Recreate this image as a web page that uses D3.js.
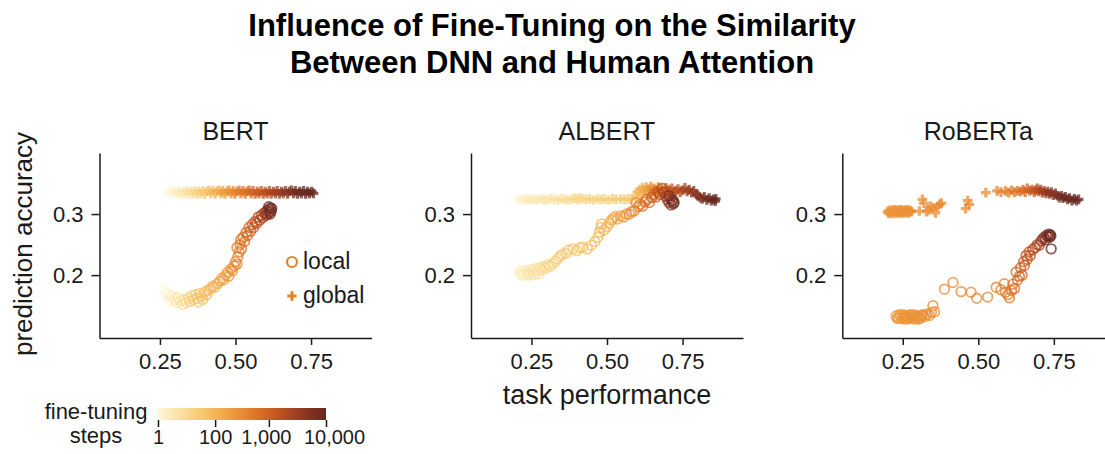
<!DOCTYPE html>
<html><head><meta charset="utf-8">
<script src="https://cdn.jsdelivr.net/npm/d3@7"></script>
<style>
html,body{margin:0;padding:0;background:#fff;}
svg{display:block;font-family:"Liberation Sans",Arial,sans-serif;}
</style></head>
<body><svg id="c" width="1105" height="454"></svg>
<script>
// ---------- data ----------
const panelTitles = ["BERT","ALBERT","RoBERTa"];
const xTicks = [0.25,0.5,0.75];
const yTicks = [0.2,0.3];
const stepTicks = [1,100,1000,10000];
const stepTickLabels = ["1","100","1,000","10,000"];
const colorStops = ["#fdf6da","#fae3a4","#f6cb72","#f2ad4c","#eb8c31","#d96a20","#b84b1f","#8d3521","#652822"];

// [task performance, prediction accuracy, fine-tuning steps]
const bertGlobal = [
[0.278,0.335,1],[0.285,0.338,1],[0.292,0.333,1],[0.298,0.337,2],[0.305,0.334,2],[0.312,0.338,2],[0.318,0.333,3],[0.325,0.337,3],[0.332,0.334,4],[0.338,0.338,5],[0.345,0.333,6],[0.352,0.337,8],[0.358,0.334,10],[0.365,0.338,12],[0.372,0.333,15],[0.378,0.337,18],[0.385,0.334,22],[0.392,0.338,27],[0.398,0.333,33],[0.405,0.337,40],[0.412,0.339,50],[0.418,0.334,60],[0.425,0.338,75],[0.432,0.333,90],[0.438,0.337,110],[0.445,0.339,130],[0.452,0.334,150],[0.458,0.338,170],[0.465,0.333,200],[0.472,0.337,230],[0.478,0.339,260],[0.485,0.334,290],[0.492,0.338,330],[0.498,0.333,370],[0.505,0.337,410],[0.512,0.339,460],[0.518,0.334,510],[0.525,0.338,560],[0.532,0.333,620],[0.538,0.337,680],[0.545,0.339,750],[0.552,0.334,820],[0.558,0.338,900],[0.565,0.333,980],[0.572,0.337,1080],[0.578,0.334,1200],[0.585,0.338,1320],[0.592,0.333,1450],[0.598,0.337,1600],[0.605,0.334,1750],[0.612,0.338,1950],[0.618,0.333,2150],[0.625,0.337,2400],[0.632,0.334,2650],[0.638,0.338,2900],[0.645,0.333,3200],[0.652,0.337,3500],[0.658,0.334,3900],[0.665,0.338,4300],[0.672,0.333,4700],[0.678,0.337,5200],[0.685,0.339,5700],[0.692,0.334,6200],[0.698,0.338,6800],[0.705,0.333,7300],[0.712,0.337,7900],[0.718,0.334,8400],[0.725,0.338,8900],[0.732,0.333,9300],[0.738,0.337,9600],[0.745,0.334,9800],[0.752,0.337,10000],[0.758,0.334,10000]
];
const bertLocal = [
[0.265,0.176,1],[0.272,0.171,1],[0.28,0.168,2],[0.285,0.158,2],[0.29,0.165,3],[0.298,0.16,3],[0.305,0.155,4],[0.31,0.163,5],[0.318,0.158,6],[0.325,0.152,8],[0.33,0.16,10],[0.338,0.155,12],[0.345,0.162,15],[0.35,0.157,18],[0.355,0.166,22],[0.362,0.16,26],[0.368,0.168,30],[0.372,0.162,35],[0.378,0.156,40],[0.382,0.17,45],[0.388,0.165,50],[0.392,0.16,55],[0.398,0.172,60],[0.405,0.168,70],[0.41,0.175,80],
[0.418,0.178,90],[0.425,0.182,100],[0.432,0.18,115],[0.44,0.186,130],[0.448,0.19,150],[0.455,0.195,170],[0.46,0.192,190],[0.468,0.2,210],[0.475,0.205,240],[0.478,0.198,260],[0.485,0.21,280],[0.49,0.207,300],[0.495,0.215,330],[0.5,0.222,360],[0.505,0.218,390],[0.508,0.23,420],[0.512,0.238,450],[0.505,0.245,480],[0.515,0.25,520],[0.52,0.243,560],[0.518,0.258,600],[0.525,0.262,650],[0.53,0.255,700],[0.535,0.27,760],[0.54,0.265,820],[0.545,0.278,900],[0.55,0.272,980],[0.555,0.283,1080],[0.56,0.278,1200],[0.565,0.288,1350],[0.57,0.285,1500],[0.575,0.295,1700],[0.58,0.29,1900],[0.585,0.298,2200],[0.59,0.294,2500],[0.595,0.302,2900],[0.6,0.298,3300],[0.603,0.305,3800],[0.607,0.3,4300],[0.61,0.308,5000],[0.613,0.303,5700],[0.616,0.31,6500],[0.618,0.305,7500],[0.62,0.309,8500],[0.615,0.3,9300],[0.61,0.312,10000]
];
const albertGlobal = [
[0.205,0.324,1],[0.212,0.325,1],[0.22,0.323,2],[0.228,0.325,2],[0.235,0.324,2],[0.243,0.323,3],[0.25,0.325,3],[0.258,0.324,3],[0.268,0.323,4],[0.278,0.325,4],[0.29,0.324,5],[0.3,0.323,5],[0.312,0.325,6],[0.325,0.324,6],[0.338,0.323,7],[0.35,0.325,8],[0.362,0.324,8],[0.372,0.323,9],[0.385,0.325,10],[0.395,0.326,11],[0.402,0.324,12],[0.41,0.326,13],[0.418,0.325,14],[0.43,0.324,15],[0.442,0.325,16],[0.455,0.323,17],[0.468,0.325,18],[0.48,0.324,19],[0.492,0.325,20],[0.505,0.323,22],[0.518,0.325,24],[0.53,0.324,26],[0.545,0.325,28],[0.558,0.324,30],[0.57,0.325,33],[0.582,0.324,38],
[0.595,0.33,60],[0.6,0.336,80],[0.608,0.34,100],[0.612,0.333,120],[0.618,0.343,140],[0.625,0.338,160],[0.63,0.344,180],[0.635,0.335,200],[0.64,0.341,230],[0.645,0.345,260],[0.65,0.337,300],[0.655,0.342,340],[0.66,0.333,380],[0.665,0.339,430],[0.67,0.344,480],[0.675,0.336,540],[0.68,0.341,600],[0.685,0.333,680],[0.69,0.338,760],[0.695,0.343,850],[0.7,0.335,950],[0.705,0.34,1050],[0.71,0.337,1150],[0.715,0.342,1300],[0.72,0.335,1450],[0.728,0.338,1600],[0.735,0.341,1800],[0.742,0.336,2000],[0.75,0.339,2300],[0.758,0.343,2600],[0.765,0.337,2900],[0.772,0.34,3300],[0.78,0.335,3700],[0.787,0.338,4200],[0.795,0.333,4700],[0.8,0.33,5300],[0.808,0.327,5900],[0.815,0.325,6500],[0.822,0.328,7100],[0.83,0.323,7700],[0.838,0.326,8300],[0.845,0.322,8900],[0.852,0.324,9400],[0.858,0.321,9800],[0.86,0.325,10000]
];
const albertLocal = [
[0.21,0.205,2],[0.214,0.201,2],[0.218,0.208,2],[0.222,0.2,3],[0.225,0.204,3],[0.232,0.207,3],[0.236,0.201,3],[0.24,0.204,4],[0.244,0.2,4],[0.248,0.209,4],[0.255,0.206,5],[0.258,0.201,5],[0.262,0.21,6],[0.27,0.207,7],[0.274,0.202,7],[0.278,0.212,8],[0.285,0.209,9],[0.292,0.214,10],[0.298,0.211,12],[0.305,0.217,14],[0.312,0.214,16],
[0.321,0.219,18],[0.33,0.223,20],[0.338,0.227,22],[0.345,0.231,25],[0.352,0.234,28],[0.365,0.236,30],[0.372,0.241,33],[0.387,0.243,36],[0.4,0.24,40],[0.41,0.245,44],[0.42,0.246,48],[0.435,0.243,52],[0.448,0.249,56],[0.46,0.255,60],[0.47,0.262,66],[0.475,0.27,72],[0.48,0.278,78],[0.482,0.284,84],[0.49,0.274,90],[0.5,0.279,100],[0.508,0.285,110],[0.515,0.29,120],[0.52,0.293,135],[0.528,0.296,150],[0.535,0.292,170],[0.545,0.297,190],[0.555,0.295,210],[0.565,0.3,240],[0.574,0.3,270],[0.582,0.304,310],[0.59,0.305,350],[0.596,0.319,390],[0.603,0.312,440],[0.61,0.316,500],[0.618,0.313,570],[0.625,0.32,650],[0.632,0.324,740],[0.64,0.319,840],[0.648,0.327,960],[0.655,0.332,1100],[0.662,0.328,1300],[0.668,0.336,1500],[0.675,0.332,1750],[0.682,0.342,2000],[0.688,0.336,2300],[0.695,0.329,2700],[0.7,0.324,3100],[0.705,0.319,3600],[0.71,0.326,4200],[0.715,0.321,4900],[0.72,0.317,5700],[0.712,0.315,6600],[0.705,0.33,7500],[0.718,0.323,8500],[0.722,0.319,10000]
];
const robertaGlobal = [
[0.2,0.304,250],[0.203,0.301,250],[0.205,0.306,250],[0.208,0.302,250],[0.21,0.303,250],[0.213,0.306,250],[0.215,0.305,250],[0.218,0.301,250],[0.22,0.304,250],[0.223,0.307,260],[0.225,0.306,260],[0.228,0.302,260],[0.23,0.303,260],[0.233,0.306,260],[0.235,0.305,260],[0.238,0.301,260],[0.24,0.304,260],[0.243,0.307,270],[0.245,0.306,270],[0.248,0.302,270],[0.25,0.303,270],[0.253,0.306,270],[0.255,0.305,270],[0.258,0.302,270],[0.26,0.304,280],[0.263,0.307,280],[0.265,0.306,280],[0.268,0.302,280],[0.27,0.303,280],[0.273,0.306,280],[0.275,0.305,290],[0.28,0.304,290],
[0.305,0.305,300],[0.315,0.324,300],[0.32,0.318,300],[0.328,0.304,310],[0.335,0.306,310],[0.342,0.313,310],[0.35,0.31,320],[0.358,0.302,320],[0.365,0.312,320],[0.372,0.316,330],[0.378,0.318,330],[0.458,0.309,340],[0.465,0.322,340],[0.47,0.316,340],[0.525,0.335,350],[0.562,0.338,380],[0.575,0.336,400],[0.59,0.338,420],[0.6,0.335,450],[0.61,0.339,480],[0.62,0.336,520],[0.63,0.338,570],[0.64,0.337,630],[0.648,0.34,700],[0.655,0.336,800],[0.662,0.342,900],[0.67,0.338,1000],[0.678,0.34,1150],[0.685,0.336,1300],[0.69,0.339,1500],[0.695,0.342,1700],[0.7,0.337,1900],[0.706,0.34,2200],[0.712,0.335,2500],[0.718,0.338,2800],[0.724,0.334,3200],[0.73,0.337,3600],[0.736,0.333,4000],[0.742,0.336,4500],[0.748,0.331,5000],[0.755,0.334,5600],[0.762,0.33,6200],[0.768,0.327,6800],[0.775,0.33,7400],[0.78,0.326,8000],[0.788,0.328,8600],[0.795,0.324,9100],[0.802,0.326,9500],[0.81,0.322,9800],[0.818,0.325,10000],[0.825,0.322,10000],[0.832,0.324,10000]
];
const robertaLocal = [
[0.228,0.133,250],[0.232,0.129,250],[0.235,0.13,250],[0.238,0.135,250],[0.242,0.134,250],[0.246,0.129,250],[0.25,0.131,250],[0.253,0.135,250],[0.256,0.128,260],[0.259,0.132,260],[0.262,0.133,260],[0.266,0.128,260],[0.27,0.13,260],[0.274,0.135,260],[0.278,0.134,270],[0.282,0.129,270],[0.285,0.131,270],[0.288,0.135,270],[0.292,0.128,280],[0.296,0.132,280],[0.3,0.133,280],[0.304,0.128,280],[0.308,0.13,290],[0.312,0.133,290],[0.315,0.135,290],[0.322,0.132,300],[0.33,0.136,300],[0.338,0.134,310],[0.345,0.139,320],[0.35,0.15,330],[0.355,0.14,330],
[0.388,0.177,340],[0.416,0.188,345],[0.443,0.173,350],[0.476,0.172,360],[0.495,0.162,370],[0.531,0.164,380],[0.559,0.18,400],[0.575,0.176,420],[0.586,0.186,450],[0.59,0.172,480],[0.598,0.168,520],[0.603,0.163,560],[0.61,0.175,600],[0.614,0.185,650],[0.62,0.178,700],[0.625,0.205,760],[0.63,0.192,820],[0.636,0.198,880],[0.64,0.212,950],[0.645,0.2,1020],[0.65,0.222,1100],[0.653,0.216,1200],[0.658,0.232,1300],[0.662,0.226,1400],[0.668,0.238,1550],[0.672,0.232,1700],[0.68,0.242,1900],[0.688,0.245,2100],[0.695,0.25,2400],[0.702,0.249,2800],[0.708,0.256,3200],[0.713,0.259,3700],[0.718,0.262,4300],[0.722,0.258,5000],[0.725,0.265,5800],[0.73,0.263,6600],[0.733,0.267,7500],[0.736,0.262,8500],[0.738,0.266,9200],[0.741,0.243,9600],[0.74,0.264,10000]
];
const panelLocal = [bertLocal, albertLocal, robertaLocal];
const panelGlobal = [bertGlobal, albertGlobal, robertaGlobal];

// ---------- layout ----------
const svg = d3.select("#c");
const panelLeft = [99.5, 471, 842.3];
const panelWidth = 272;
const yTop = 153, yBottom = 338;
const ink = "#1a1a1a";

const tScale = d3.scaleLog().domain([1,100,1000,10000]).range([0,0.34,0.66,1]).clamp(true);
const cmap = d3.interpolateRgbBasis(colorStops);
const colorOf = s => cmap(tScale(s));

const y = d3.scaleLinear().domain([0.097,0.4]).range([yBottom,yTop]);
const crossPath = d3.symbol(d3.symbolCross, 52)();

// title
const title = svg.append("text").attr("x",552).attr("text-anchor","middle")
  .attr("font-weight","bold").attr("font-size",31).attr("fill","#000");
title.append("tspan").attr("x",552).attr("y",36).text("Influence of Fine-Tuning on the Similarity");
title.append("tspan").attr("x",552).attr("y",73).text("Between DNN and Human Attention");

panelTitles.forEach((name,i)=>{
  const x = d3.scaleLinear().domain([0.05,0.95]).range([panelLeft[i], panelLeft[i]+panelWidth]);
  const g = svg.append("g");
  g.append("text").attr("x",(panelLeft[i]+panelLeft[i]+panelWidth)/2).attr("y",140)
    .attr("text-anchor","middle").attr("font-size",25).attr("fill",ink).text(name);

  const ax = g.append("g").attr("transform",`translate(0,${yBottom})`)
    .call(d3.axisBottom(x).tickValues(xTicks).tickFormat(d3.format(".2f")).tickSize(7).tickSizeOuter(0).tickPadding(8));
  const ay = g.append("g").attr("transform",`translate(${panelLeft[i]},0)`)
    .call(d3.axisLeft(y).tickValues(yTicks).tickFormat(d3.format(".1f")).tickSize(8).tickSizeOuter(0).tickPadding(8));
  [ax,ay].forEach(a=>{
    a.selectAll("path,line").attr("stroke",ink).attr("stroke-width",1.5);
    a.selectAll("text").attr("font-size",22).attr("fill",ink).attr("font-family","Liberation Sans, Arial, sans-serif");
  });

  g.append("g").selectAll("path").data(panelGlobal[i]).join("path")
    .attr("d",crossPath)
    .attr("transform",d=>`translate(${x(d[0])},${y(d[1])})`)
    .attr("fill",d=>colorOf(d[2])).attr("fill-opacity",0.75);
  g.append("g").selectAll("circle").data(panelLocal[i]).join("circle")
    .attr("cx",d=>x(d[0])).attr("cy",d=>y(d[1])).attr("r",4.8)
    .attr("fill","none").attr("stroke",d=>colorOf(d[2])).attr("stroke-width",1.8).attr("stroke-opacity",0.75);
});

// axis labels
svg.append("text").attr("transform","translate(32,244) rotate(-90)").attr("text-anchor","middle")
  .attr("font-size",26).attr("fill",ink).text("prediction accuracy");
svg.append("text").attr("x",607).attr("y",404).attr("text-anchor","middle")
  .attr("font-size",27).attr("fill",ink).text("task performance");

// legend
const legendColor = colorOf(400);
svg.append("circle").attr("cx",292).attr("cy",262).attr("r",5).attr("fill","none")
  .attr("stroke",legendColor).attr("stroke-width",2.2);
svg.append("path").attr("d",d3.symbol(d3.symbolCross,48)()).attr("transform","translate(292,296)").attr("fill",legendColor);
svg.append("text").attr("x",303).attr("y",269).attr("font-size",23).attr("fill",ink).text("local");
svg.append("text").attr("x",303).attr("y",303).attr("font-size",23).attr("fill",ink).text("global");

// colorbar
const cbX0 = 158, cbX1 = 326, cbY = 408, cbH = 12;
const cb = d3.scaleLinear().domain([0,1]).range([cbX0,cbX1]);
const grad = svg.append("defs").append("linearGradient").attr("id","cbg");
d3.range(0,1.0001,0.05).forEach(t=>grad.append("stop").attr("offset",t).attr("stop-color",cmap(t)));
svg.append("rect").attr("x",cbX0).attr("y",cbY).attr("width",cbX1-cbX0).attr("height",cbH).attr("fill","url(#cbg)");
const cbs = d3.scaleLog().domain(stepTicks).range(stepTicks.map(s=>cb(tScale(s))));
svg.append("g").attr("transform",`translate(0,${cbY+cbH})`)
  .call(d3.axisBottom(cbs).tickValues(stepTicks).tickFormat((d,i)=>stepTickLabels[i]).tickSize(7).tickPadding(3))
  .call(a=>{a.select(".domain").remove();
    a.selectAll("line").attr("stroke",ink).attr("stroke-width",1.5);
    a.selectAll("text").attr("font-size",20).attr("fill",ink).attr("font-family","Liberation Sans, Arial, sans-serif")
      .attr("dx",(d,i)=> i===3 ? 8 : (i===2 ? -3 : 0));});
svg.append("text").attr("x",96).attr("y",419).attr("text-anchor","middle").attr("font-size",22).attr("fill",ink).text("fine-tuning");
svg.append("text").attr("x",96).attr("y",443).attr("text-anchor","middle").attr("font-size",22).attr("fill",ink).text("steps");
</script></body></html>
